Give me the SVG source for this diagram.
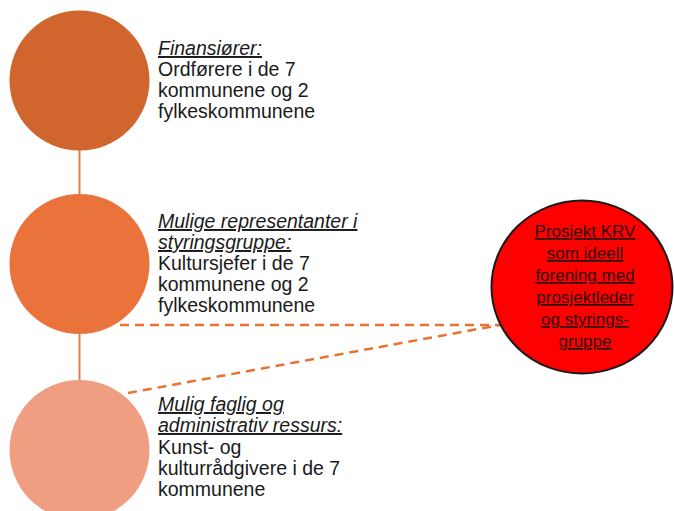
<svg xmlns="http://www.w3.org/2000/svg" width="674" height="511" viewBox="0 0 674 511">
<style>
.lbl{font-family:"Liberation Sans",Arial,sans-serif;font-size:19.5px;fill:#1a1a1a}
.hd{font-style:italic;text-decoration:underline}
.red{font-family:"Liberation Sans",Arial,sans-serif;font-size:17px;fill:#2a1010;text-decoration:underline;text-anchor:middle}
.vline{stroke:#E27A48;stroke-width:2;fill:none}
.dash{stroke:#E97132;stroke-width:2.5;stroke-dasharray:9 6;fill:none}
</style>
<rect width="674" height="511" fill="#ffffff"/>
<g id="connectors">
<line class="vline" x1="79.5" y1="150" x2="79.5" y2="195"/>
<line class="vline" x1="79.5" y1="334" x2="79.5" y2="380"/>
<line class="dash" x1="120" y1="325" x2="500" y2="325"/>
<line class="dash" x1="128" y1="393" x2="500" y2="325"/>
</g>
<g id="node-finansiorer">
<circle cx="79.5" cy="80.5" r="70" fill="#D0652E"/>
<text class="lbl" x="158"><tspan class="hd" x="158" y="55">Finansiører:</tspan><tspan x="158" y="76">Ordførere i de 7</tspan><tspan x="158" y="97">kommunene og 2</tspan><tspan x="158" y="118">fylkeskommunene</tspan></text>
</g>
<g id="node-styringsgruppe">
<circle cx="79.5" cy="264" r="70" fill="#E9733A"/>
<text class="lbl"><tspan class="hd" x="158" y="228">Mulige representanter i</tspan><tspan class="hd" x="158" y="249">styringsgruppe:</tspan><tspan x="158" y="270">Kultursjefer i de 7</tspan><tspan x="158" y="291">kommunene og 2</tspan><tspan x="158" y="312">fylkeskommunene</tspan></text>
</g>
<g id="node-ressurs">
<circle cx="79.5" cy="450" r="70" fill="#EF9E82"/>
<text class="lbl"><tspan class="hd" x="158" y="411">Mulig faglig og</tspan><tspan class="hd" x="158" y="432">administrativ ressurs:</tspan><tspan x="158" y="454">Kunst- og</tspan><tspan x="158" y="475">kulturrådgivere i de 7</tspan><tspan x="158" y="496">kommunene</tspan></text>
</g>
<g id="node-krv">
<ellipse cx="582" cy="287" rx="90.5" ry="86.5" fill="#FF0000" stroke="#1a1a1a" stroke-width="2"/>
<text class="red"><tspan x="585" y="237">Prosjekt KRV</tspan><tspan x="585" y="259">som ideell</tspan><tspan x="585" y="281">forening med</tspan><tspan x="585" y="303">prosjektleder</tspan><tspan x="585" y="325">og styrings-</tspan><tspan x="585" y="347">gruppe</tspan></text>
</g>
</svg>
